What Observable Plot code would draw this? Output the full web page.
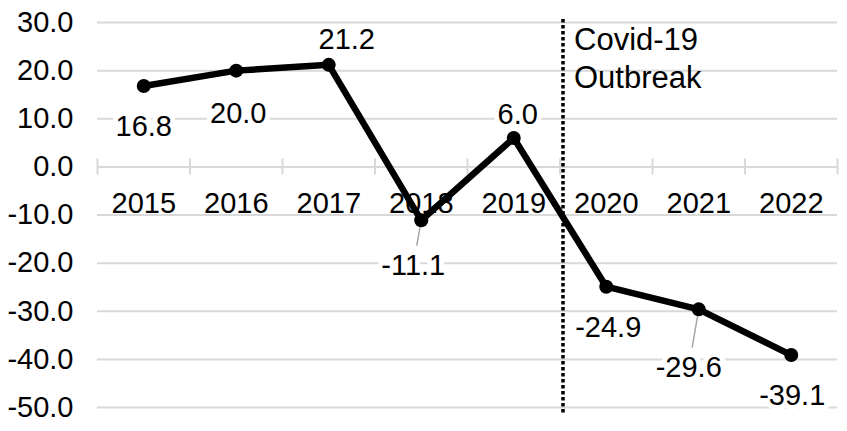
<!DOCTYPE html>
<html>
<head>
<meta charset="utf-8">
<script src="https://cdn.jsdelivr.net/npm/d3@7"></script>
<script src="https://cdn.jsdelivr.net/npm/@observablehq/plot@0.6"></script>
<style>
  html, body { margin: 0; padding: 0; background: #fff; }
  #chart svg { display: block; }
</style>
</head>
<body>
<div id="chart"></div>
<script>
// ---- data ----
const years = ["2015", "2016", "2017", "2018", "2019", "2020", "2021", "2022"];
const values = [16.8, 20.0, 21.2, -11.1, 6.0, -24.9, -29.6, -39.1];
const yTicks = [30, 20, 10, 0, -10, -20, -30, -40, -50];
const annotationText = "Covid-19\nOutbreak";
const annotationAfterYear = "2019";

// ---- layout for labels (offsets in px from the point) ----
const labelDx = [0, 2, 18, -8, 4, 2, -10, 1];
const labelDy = [41, 43, -25, 45, -23, 41, 58, 41];
const leaderYears = ["2018", "2021"];

const data = years.map((y, i) => ({i, year: y, value: values[i], dx: labelDx[i], dy: labelDy[i]}));
const boundaries = d3.range(years.length + 1).map(k => k - 0.5);
const annX = years.indexOf(annotationAfterYear) + 0.5;
const font = "'Liberation Sans', Arial, sans-serif";
const gray = "#d9d9d9";
const fs = 29;

const labelMarks = data.map(d => Plot.text([d], {
  x: "i", y: "value", text: v => v.value.toFixed(1),
  dx: d.dx, dy: d.dy, fontSize: fs, fill: "#000",
  stroke: "white", strokeWidth: 10, paintOrder: "stroke"
}));

const leaderMarks = data.filter(d => leaderYears.includes(d.year)).map(d => Plot.link([d], {
  x1: "i", y1: "value", x2: "i", y2: "value",
  stroke: "#a6a6a6", strokeWidth: 1.5,
  render: (index, scales, values, dims, ctx, next) => {
    const g = next(index, scales, values, dims, ctx);
    const line = g.querySelector("path, line");
    const px = scales.x(d.i), py = scales.y(d.value);
    const len = Math.hypot(d.dx, d.dy);
    const ux = d.dx / len, uy = d.dy / len;
    const x1 = px + ux * 6, y1 = py + uy * 6;
    const x2 = px + ux * (len - 20), y2 = py + uy * (len - 20);
    line.setAttribute("d", `M${x1},${y1}L${x2},${y2}`);
    return g;
  }
}));

const chart = Plot.plot({
  width: 847,
  height: 431,
  marginLeft: 97,
  marginRight: 10,
  marginTop: 22,
  marginBottom: 24,
  style: {fontFamily: font, background: "#fff"},
  x: {domain: [-0.5, years.length - 0.5], axis: null},
  y: {domain: [-50, 30], axis: null},
  marks: [
    Plot.ruleY(yTicks, {stroke: gray, strokeWidth: 2}),
    Plot.ruleX(boundaries, {x: d => d, y1: 0, y2: 0, insetTop: -8, insetBottom: -8, stroke: gray, strokeWidth: 2}),
    Plot.axisY({ticks: yTicks, tickFormat: d => d.toFixed(1), tickSize: 0, tickPadding: 24, fontSize: fs, fill: "#000", textAnchor: "end", label: null}),
    Plot.text(data, {x: "i", y: 0, text: "year", dy: 37, fontSize: fs, fill: "#000"}),
    ...labelMarks,
    ...leaderMarks,
    Plot.ruleX([annX], {y1: 30, y2: -50, insetTop: -3, insetBottom: -8, dx: 3, stroke: "#000", strokeWidth: 3.5, strokeDasharray: "3.5,2.5"}),
    Plot.text([annotationText], {x: annX, y: 30, text: d => d, dx: 14, dy: 1, textAnchor: "start", lineAnchor: "top", fontSize: 31, lineHeight: 1.22, fill: "#000"}),
    Plot.line(data, {x: "i", y: "value", stroke: "#000", strokeWidth: 6.5, strokeLinejoin: "round"}),
    Plot.dot(data, {x: "i", y: "value", r: 7, fill: "#000"})
  ]
});
document.getElementById("chart").appendChild(chart);
</script>
</body>
</html>
